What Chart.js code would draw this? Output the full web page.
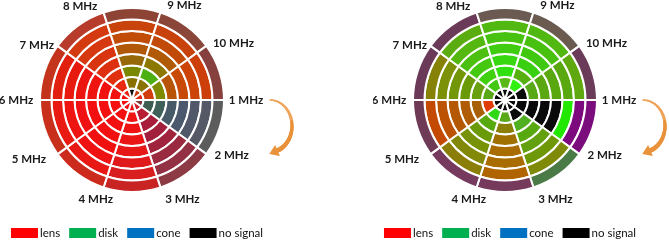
<!DOCTYPE html>
<html><head><meta charset="utf-8">
<script src="https://cdn.jsdelivr.net/npm/chart.js@4.4.1/dist/chart.umd.min.js"></script>
<style>
html,body{margin:0;padding:0;background:#fff;}
body{width:669px;height:241px;position:relative;overflow:hidden;}
.box{position:absolute;top:0;height:241px;width:300px;}
#wl{left:0;}
#wr{left:373px;}
</style></head><body>
<div class="box" id="wl"><canvas id="cl"></canvas></div>
<div class="box" id="wr"><canvas id="cr"></canvas></div>
<script>
// sectors, clockwise from the 1 MHz direction
const categories = ['1 MHz','2 MHz','3 MHz','4 MHz','5 MHz','6 MHz','7 MHz','8 MHz','9 MHz','10 MHz'];
const sectorShare = [1,1,1,1,1,1,1,1,1,1];
const legendNames = ['lens','disk','cone','no signal'];
const legendColors = ['#ff0000','#00b050','#0070c0','#000000'];

// left chart: ring 0 = centre ... ring 7 = outer; entries per sector
const leftRing0 = ['#7a3a3a','#d01828','#f01010','#f41010','#f41010','#f21010','#e82010','#111111','#c83c10','#e02810'];
const leftRing1 = ['#3e5e52','#b81c34','#f01414','#f41010','#f41010','#f21212','#e82810','#8a7000','#8a7200','#d03c0c'];
const leftRing2 = ['#40605a','#a81e3a','#ee1414','#f41010','#f41010','#f01210','#e03010','#7a8800','#4cb012','#7e8a00'];
const leftRing3 = ['#485a68','#a2203c','#ea1616','#f21010','#f21010','#ee1410','#dc3010','#966808','#8c7800','#b85408'];
const leftRing4 = ['#4c586e','#a0243e','#e61818','#f01010','#f01212','#ec1610','#d83410','#b05808','#b05a08','#c84a08'];
const leftRing5 = ['#50586a','#9a2a40','#e01a1a','#ee1212','#ee1412','#e81a10','#d63810','#c04c08','#c24a08','#cc4408'];
const leftRing6 = ['#555966','#933044','#d81e1e','#e81814','#e81a12','#e22010','#d43a10','#c8440c','#c8420c','#cc3e0a'];
const leftRing7 = ['#5c5c5c','#8c3a44','#c82424','#cc2a1c','#c8301c','#c4341c','#b83c2c','#8e4434','#8a4638','#86403e'];

// right chart
const rightRing0 = ['#0a0a0a','#0a0a0a','#0a0a0a','#0a0a0a','#0a0a0a','#0a0a0a','#0a0a0a','#0a0a0a','#0a0a0a','#0a0a0a'];
const rightRing1 = ['#0a0a0a','#0a0a0a','#58a818','#30d818','#e03c08','#5aa818','#44c814','#58b818','#30f010','#0a0a0a'];
const rightRing2 = ['#0a0a0a','#50b020','#8a8008','#58a810','#a86008','#68a010','#40d010','#30e010','#58b010','#58a818'];
const rightRing3 = ['#0a0a0a','#58a810','#a07000','#6a9a08','#b05c04','#6a9a08','#44c810','#38d810','#38d010','#5aa810'];
const rightRing4 = ['#0a0a0a','#62a010','#a86c00','#789208','#b45804','#729608','#4cc010','#40cc10','#40c810','#5aa810'];
const rightRing5 = ['#22e800','#6e9808','#a86c00','#828808','#bc5204','#7c9008','#54b810','#48c210','#48c010','#5aa810'];
const rightRing6 = ['#7c0a7e','#7e8a08','#b06400','#8a7e08','#c44a04','#868208','#5aac10','#50b810','#50b810','#60a810'];
const rightRing7 = ['#7a0c7c','#4a7a46','#763a5c','#763a5e','#6e3a56','#6a3a58','#6a3a58','#6a5a52','#6a5a50','#6a3c5a'];

// label placement (layout only): angle nudge in degrees and gap beyond the outer ring
const labelNudge = [0,-7,-9,2,6,0,-6,-11,11,7];
const labelGap = [22,22,19,14,27,24,18,15,16,24];

const leftRings = [leftRing0,leftRing1,leftRing2,leftRing3,leftRing4,leftRing5,leftRing6,leftRing7];
const rightRings = [rightRing0,rightRing1,rightRing2,rightRing3,rightRing4,rightRing5,rightRing6,rightRing7];

const decor = {
  id:'decor',
  afterDraw(chart){
    const arc = chart.getDatasetMeta(0).data[0];
    if(!arc) return;
    const cx = arc.x, cy = arc.y, R = arc.outerRadius;
    const ctx = chart.ctx;
    ctx.save();
    ctx.font = 'bold 11.5px Lato, "Liberation Sans", sans-serif';
    ctx.fillStyle = '#1a1a1a';
    ctx.textAlign = 'center';
    ctx.textBaseline = 'middle';
    categories.forEach((c,k)=>{
      const a = (36*k + labelNudge[k]) * Math.PI/180;
      const r = R + labelGap[k];
      ctx.fillText(c, cx + r*Math.cos(a), cy + r*Math.sin(a));
    });
    // curved arrow showing the clockwise direction
    const ex = cx + R + 46, ey = cy + 26, rx = 22, ry = 26;
    const a0 = -Math.PI/2, a1 = 70*Math.PI/180, n = 40;
    ctx.lineCap = 'round';
    for(let i=0;i<n;i++){
      const t0 = a0 + (a1-a0)*i/n, t1 = a0 + (a1-a0)*(i+1)/n;
      ctx.beginPath();
      ctx.moveTo(ex + rx*Math.cos(t0), ey + ry*Math.sin(t0));
      ctx.lineTo(ex + rx*Math.cos(t1), ey + ry*Math.sin(t1));
      ctx.lineWidth = 1.5 + 3.2*i/n;
      ctx.strokeStyle = i < n/2 ? '#eea45a' : '#e9923a';
      ctx.stroke();
    }
    const px = ex + rx*Math.cos(a1), py = ey + ry*Math.sin(a1);
    let dx = -rx*Math.sin(a1), dy = ry*Math.cos(a1);
    const L = Math.hypot(dx,dy); dx/=L; dy/=L;
    ctx.beginPath();
    ctx.moveTo(px + dx*9, py + dy*9);
    ctx.lineTo(px - dy*6, py + dx*6);
    ctx.lineTo(px + dy*6, py - dx*6);
    ctx.closePath();
    ctx.fillStyle = '#e9923a';
    ctx.fill();
    // legend
    ctx.font = '11.5px Lato, "Liberation Sans", sans-serif';
    ctx.textAlign = 'left';
    const bw = 27, bh = 10, gapT = 2, gapI = 9;
    const widths = legendNames.map(t => bw + gapT + ctx.measureText(t).width);
    const total = widths.reduce((s,w)=>s+w,0) + gapI*(widths.length-1);
    let x = cx + 5 - total/2;
    const ly = 233;
    legendNames.forEach((t,i)=>{
      ctx.fillStyle = legendColors[i];
      ctx.fillRect(x, ly - bh/2, bw, bh);
      ctx.fillStyle = '#111';
      ctx.fillText(t, x + bw + gapT, ly);
      x += widths[i] + gapI;
    });
    ctx.restore();
  }
};

function makeChart(id, rings){
  const datasets = rings.slice().reverse().map(cols => ({
    data: sectorShare,
    backgroundColor: cols,
    borderColor: '#ffffff',
    borderWidth: 2,
    hoverOffset: 0
  }));
  return new Chart(document.getElementById(id), {
    type:'doughnut',
    data:{labels:categories, datasets},
    options:{
      responsive:true, maintainAspectRatio:false, animation:false,
      rotation:90, cutout:0,
      layout:{padding:{top:7,bottom:48,left:0,right:36}},
      plugins:{ tooltip:{enabled:false}, legend:{display:false} }
    },
    plugins:[decor]
  });
}
makeChart('cl', leftRings);
makeChart('cr', rightRings);
</script>
</body></html>
